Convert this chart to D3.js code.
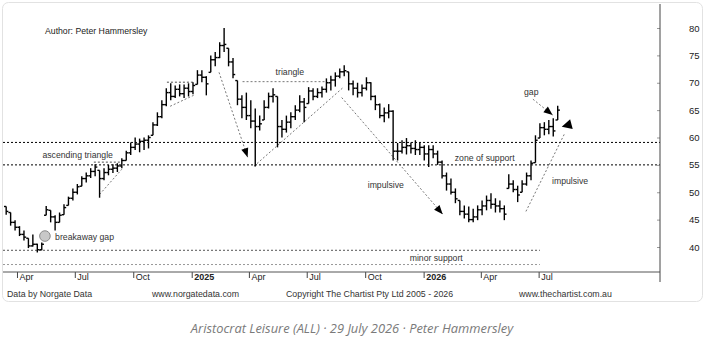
<!DOCTYPE html>
<html>
<head>
<meta charset="utf-8">
<script src="https://cdn.jsdelivr.net/npm/d3@7"></script>
<style>
  body { margin: 0; background: #fff; }
  svg text { font-family: "Liberation Sans", Arial, sans-serif; }
  svg text.caption { font-family: "Open Sans", Lato, sans-serif; font-style: italic; }
</style>
</head>
<body>
<div id="chart"></div>
<script>
// Weekly bars (week ending Friday) from 15 Mar 2024 to end of July 2026
const highs = [
  47.4, 46.3, 44.9, 43.8, 43.0, 41.6, 42.3, 40.6, 40.8, 47.5,
  46.7, 45.8, 46.3, 47.8, 49.2, 50.7, 51.5, 52.9, 53.6, 54.4,
  55.1, 54.0, 54.4, 55.0, 55.1, 55.3, 56.2, 57.6, 59.1, 60.0,
  59.8, 60.0, 60.4, 62.8, 64.6, 66.8, 69.0, 69.9, 69.5, 69.7,
  69.7, 69.9, 70.1, 72.3, 72.3, 71.2, 75.0, 75.6, 77.4, 80.0,
  76.3, 74.5, 70.4, 67.7, 68.2, 66.8, 65.3, 64.0, 66.8, 68.2,
  69.0, 67.5, 63.2, 64.0, 64.6, 65.9, 67.7, 67.2, 69.2, 69.0,
  69.0, 69.3, 70.8, 71.3, 71.9, 72.6, 73.2, 72.0, 70.4, 70.0,
  69.7, 71.0, 70.1, 67.7, 66.2, 65.5, 66.1, 65.0, 59.0, 59.5,
  59.9, 59.1, 59.5, 59.1, 58.6, 58.6, 58.6, 57.6, 55.8, 53.6,
  52.5, 50.7, 48.5, 47.6, 47.4, 47.0, 47.6, 48.5, 49.4, 49.8,
  48.9, 48.5, 47.6, 53.3, 52.2, 51.2, 52.2, 53.6, 55.8, 60.4,
  62.6, 62.8, 63.2, 63.5, 65.8
];
const lows = [
  45.9, 43.9, 43.0, 42.0, 41.2, 39.8, 40.1, 39.0, 39.4, 45.8,
  44.5, 43.0, 44.5, 45.9, 47.6, 48.5, 49.6, 51.1, 51.8, 52.6,
  52.9, 49.0, 52.2, 53.1, 53.5, 53.7, 54.4, 55.8, 56.8, 57.7,
  57.3, 57.7, 58.0, 60.4, 62.1, 63.5, 65.7, 66.8, 67.2, 67.5,
  67.2, 67.5, 67.9, 69.7, 70.1, 67.7, 71.9, 73.0, 74.5, 75.6,
  73.0, 70.8, 65.9, 63.5, 63.2, 61.7, 54.7, 61.3, 63.2, 65.3,
  66.4, 58.2, 60.0, 60.9, 61.7, 63.2, 64.6, 62.8, 66.2, 66.8,
  67.2, 67.3, 68.2, 68.6, 69.3, 70.8, 71.2, 68.6, 67.7, 67.3,
  67.5, 68.6, 66.8, 65.0, 63.5, 62.8, 63.5, 55.8, 55.8, 57.1,
  56.9, 57.1, 56.8, 56.8, 55.8, 54.6, 56.2, 55.0, 52.5, 50.3,
  49.6, 48.0, 45.8, 45.2, 44.5, 44.5, 44.9, 45.8, 46.7, 47.0,
  46.3, 46.3, 44.9, 50.7, 50.0, 48.2, 50.0, 51.2, 52.2, 55.4,
  59.9, 60.4, 60.6, 60.2, 63.2
];
const closes = [
  46.5, 44.5, 43.6, 42.3, 41.8, 40.2, 40.5, 39.5, 40.5, 46.8,
  45.5, 44.5, 45.8, 47.2, 48.9, 50.0, 51.0, 52.5, 53.0, 53.8,
  54.6, 52.5, 53.6, 54.2, 54.4, 54.8, 55.8, 57.2, 58.2, 58.8,
  59.3, 59.5, 60.0, 62.3, 63.8, 66.0, 68.2, 67.5, 68.8, 68.0,
  69.0, 68.4, 69.5, 71.4, 71.0, 69.8, 74.2, 74.6, 76.8, 77.0,
  73.8, 71.5, 67.0, 65.5, 64.0, 63.0, 62.0, 62.5, 65.5, 67.5,
  67.8, 62.0, 61.5, 62.8, 63.8, 65.0, 66.5, 65.5, 68.5, 67.5,
  68.2, 68.8, 70.0, 70.5, 71.2, 72.0, 72.2, 69.8, 69.0, 68.2,
  69.0, 70.0, 67.5, 66.0, 64.0, 64.5, 64.8, 57.5, 57.5, 58.2,
  58.5, 58.0, 57.8, 58.2, 57.0, 57.8, 57.0, 55.5, 53.0, 51.5,
  50.0, 48.8, 46.5, 46.0, 45.0, 45.5, 46.8, 47.5, 48.5, 47.8,
  47.5, 47.0, 46.0, 51.5, 50.5, 49.5, 51.5, 53.0, 55.3, 59.5,
  61.8, 61.5, 62.0, 61.2, 65.0
];

const weeks = d3.timeFriday.range(new Date(2024, 2, 15), new Date(2026, 7, 1));

const tickDates = ["2024-04-01", "2024-07-01", "2024-10-01", "2025-01-01", "2025-04-01",
  "2025-07-01", "2025-10-01", "2026-01-01", "2026-04-01", "2026-07-01"];
const tickLabels = ["Apr", "Jul", "Oct", "2025", "Apr", "Jul", "Oct", "2026", "Apr", "Jul"];
const priceTicks = [40, 45, 50, 55, 60, 65, 70, 75, 80];

// drawn levels
const supportLevels = [59.1, 55.0];
const minorLevels = [39.4, 36.8];

const parse = d3.timeParse("%Y-%m-%d");

const W = 706, H = 338;
const svg = d3.select("#chart").append("svg").attr("width", W).attr("height", H);

const x = d3.scaleTime()
  .domain([new Date(2024, 2, 10), new Date(2027, 0, 8)])
  .range([3, 660]);
const y = d3.scaleLinear().domain([40, 80]).range([247, 28]);

// outer frame
svg.append("rect")
  .attr("x", 2.5).attr("y", 2.5)
  .attr("width", 700).attr("height", 299)
  .attr("rx", 6)
  .attr("fill", "#fff")
  .attr("stroke", "#e2e2e2");

// arrowhead marker
svg.append("defs").append("marker")
  .attr("id", "arrow")
  .attr("markerUnits", "userSpaceOnUse")
  .attr("viewBox", "0 -5 10 10")
  .attr("refX", 10).attr("refY", 0)
  .attr("markerWidth", 11).attr("markerHeight", 9)
  .attr("orient", "auto")
  .append("path")
  .attr("d", "M0,-4L10,0L0,4Z")
  .attr("fill", "#000");

// horizontal levels
svg.selectAll("line.support").data(supportLevels).join("line")
  .attr("class", "support")
  .attr("x1", 3).attr("x2", 660)
  .attr("y1", d => y(d)).attr("y2", d => y(d))
  .attr("stroke", "#000").attr("stroke-width", 1)
  .attr("stroke-dasharray", "2,2");

svg.selectAll("line.minor").data(minorLevels).join("line")
  .attr("class", "minor")
  .attr("x1", 3).attr("x2", x(parse("2026-07-03")))
  .attr("y1", d => y(d)).attr("y2", d => y(d))
  .attr("stroke", (d, i) => i === 0 ? "#555" : "#999").attr("stroke-width", 1)
  .attr("stroke-dasharray", "2,2");

// trend / pattern lines
const segments = [
  { a: ["2024-07-31", 55.5], b: ["2024-09-13", 55.5], dark: true },
  { a: ["2024-08-09", 49.6], b: ["2024-09-13", 54.2] },
  { a: ["2024-11-23", 70.1], b: ["2025-01-06", 70.1], dark: true },
  { a: ["2024-11-28", 65.7], b: ["2025-01-04", 67.7] },
  { a: ["2025-02-13", 71.9], b: ["2025-03-30", 56.4], arrow: true },
  { a: ["2025-03-22", 70.2], b: ["2025-08-02", 70.2] },
  { a: ["2025-04-09", 54.75], b: ["2025-08-28", 69.2] },
  { a: ["2025-08-25", 67.3], b: ["2026-01-31", 46.0], arrow: true },
  { a: ["2026-06-22", 67.0], b: ["2026-07-23", 64.1], arrow: true },
  { a: ["2026-06-11", 46.5], b: ["2026-08-11", 60.75] }
];
svg.append("g").selectAll("line").data(segments).join("line")
  .attr("x1", d => x(parse(d.a[0]))).attr("y1", d => y(d.a[1]))
  .attr("x2", d => x(parse(d.b[0]))).attr("y2", d => y(d.b[1]))
  .attr("stroke", d => d.dark ? "#222" : "#555")
  .attr("stroke-width", 0.8)
  .attr("stroke-dasharray", "2,2")
  .attr("marker-end", d => d.arrow ? "url(#arrow)" : null);

// left pointing arrowhead at the end of the 2026 move
svg.append("path")
  .attr("transform", `translate(${x(parse("2026-08-14"))},${y(62.2)}) rotate(-15)`)
  .attr("d", "M-5,0L5,-5L5,5Z")
  .attr("fill", "#000");

// price bars: high-low, open tick (previous close, kept inside the range) and close tick
const bars = svg.append("g").attr("stroke", "#000").attr("stroke-width", 1.4);
bars.selectAll("line.hl").data(weeks).join("line")
  .attr("class", "hl")
  .attr("x1", d => x(d)).attr("x2", d => x(d))
  .attr("y1", (d, i) => y(highs[i])).attr("y2", (d, i) => y(lows[i]));
bars.selectAll("line.op").data(weeks).join("line")
  .attr("class", "op")
  .attr("x1", d => x(d) - 2.2).attr("x2", d => x(d))
  .attr("y1", (d, i) => y(i ? Math.max(lows[i], Math.min(highs[i], closes[i - 1])) : highs[i]))
  .attr("y2", (d, i) => y(i ? Math.max(lows[i], Math.min(highs[i], closes[i - 1])) : highs[i]));
bars.selectAll("line.cl").data(weeks).join("line")
  .attr("class", "cl")
  .attr("x1", d => x(d)).attr("x2", d => x(d) + 2.2)
  .attr("y1", (d, i) => y(closes[i])).attr("y2", (d, i) => y(closes[i]));

// breakaway gap marker
svg.append("circle")
  .attr("cx", x(parse("2024-05-15"))).attr("cy", y(42.0))
  .attr("r", 5.3)
  .attr("fill", "#c8c8c8").attr("stroke", "#8a8a8a");

// annotation labels
const notes = [
  ["ascending triangle", "2024-05-11", 56.3],
  ["breakaway gap", "2024-05-31", 41.3],
  ["triangle", "2025-05-13", 71.45],
  ["impulsive", "2025-10-05", 50.8],
  ["zone of support", "2026-02-19", 55.66],
  ["minor support", "2025-12-10", 37.4],
  ["gap", "2026-06-08", 67.8],
  ["impulsive", "2026-07-22", 51.55]
];
svg.append("g").selectAll("text").data(notes).join("text")
  .attr("x", d => x(parse(d[1]))).attr("y", d => y(d[2]))
  .attr("font-size", 8.7).attr("fill", "#333")
  .text(d => d[0]);

svg.append("text")
  .attr("x", 45).attr("y", 34)
  .attr("font-size", 8.7).attr("fill", "#222")
  .text("Author: Peter Hammersley");

// x axis
const xAxis = svg.append("g")
  .attr("transform", "translate(0,272)")
  .call(d3.axisBottom(x)
    .tickValues(tickDates.map(parse))
    .tickSize(6)
    .tickFormat((d, i) => tickLabels[i]));
xAxis.select(".domain").remove();
xAxis.selectAll(".tick line").attr("stroke", "#444");
xAxis.selectAll(".tick text")
  .attr("x", 2).attr("y", 2).attr("dy", "0.71em")
  .attr("text-anchor", "start")
  .attr("font-size", 9)
  .attr("fill", "#222")
  .attr("font-weight", (d, i) => tickLabels[i].length === 4 ? "bold" : null)
  .style("font-family", '"Liberation Sans", Arial, sans-serif');
svg.append("line")
  .attr("x1", 3).attr("x2", 660).attr("y1", 272).attr("y2", 272)
  .attr("stroke", "#555");

// y axis on the right
const yAxis = svg.append("g")
  .attr("transform", "translate(660,0)")
  .call(d3.axisRight(y).tickValues(priceTicks).tickSize(-3).tickPadding(29));
yAxis.select(".domain").remove();
yAxis.selectAll(".tick line").attr("stroke", "#999");
yAxis.selectAll(".tick text")
  .attr("font-size", 9.5)
  .attr("fill", "#222")
  .style("font-family", '"Liberation Sans", Arial, sans-serif');
svg.append("line")
  .attr("x1", 660).attr("x2", 660).attr("y1", 4).attr("y2", 282)
  .attr("stroke", "#444");

// footer
const footer = [
  ["Data by Norgate Data", 7],
  ["www.norgatedata.com", 152],
  ["Copyright The Chartist Pty Ltd 2005 - 2026", 286],
  ["www.thechartist.com.au", 519]
];
svg.append("g").selectAll("text").data(footer).join("text")
  .attr("x", d => d[1]).attr("y", 297)
  .attr("font-size", 8.8).attr("fill", "#333")
  .text(d => d[0]);

// caption under the chart
svg.append("text")
  .attr("class", "caption")
  .attr("x", 352).attr("y", 333)
  .attr("text-anchor", "middle")
  .attr("font-size", 12.9)
  .attr("fill", "#7a7a7a")
  .text("Aristocrat Leisure (ALL) · 29 July 2026 · Peter Hammersley");
</script>
</body>
</html>
